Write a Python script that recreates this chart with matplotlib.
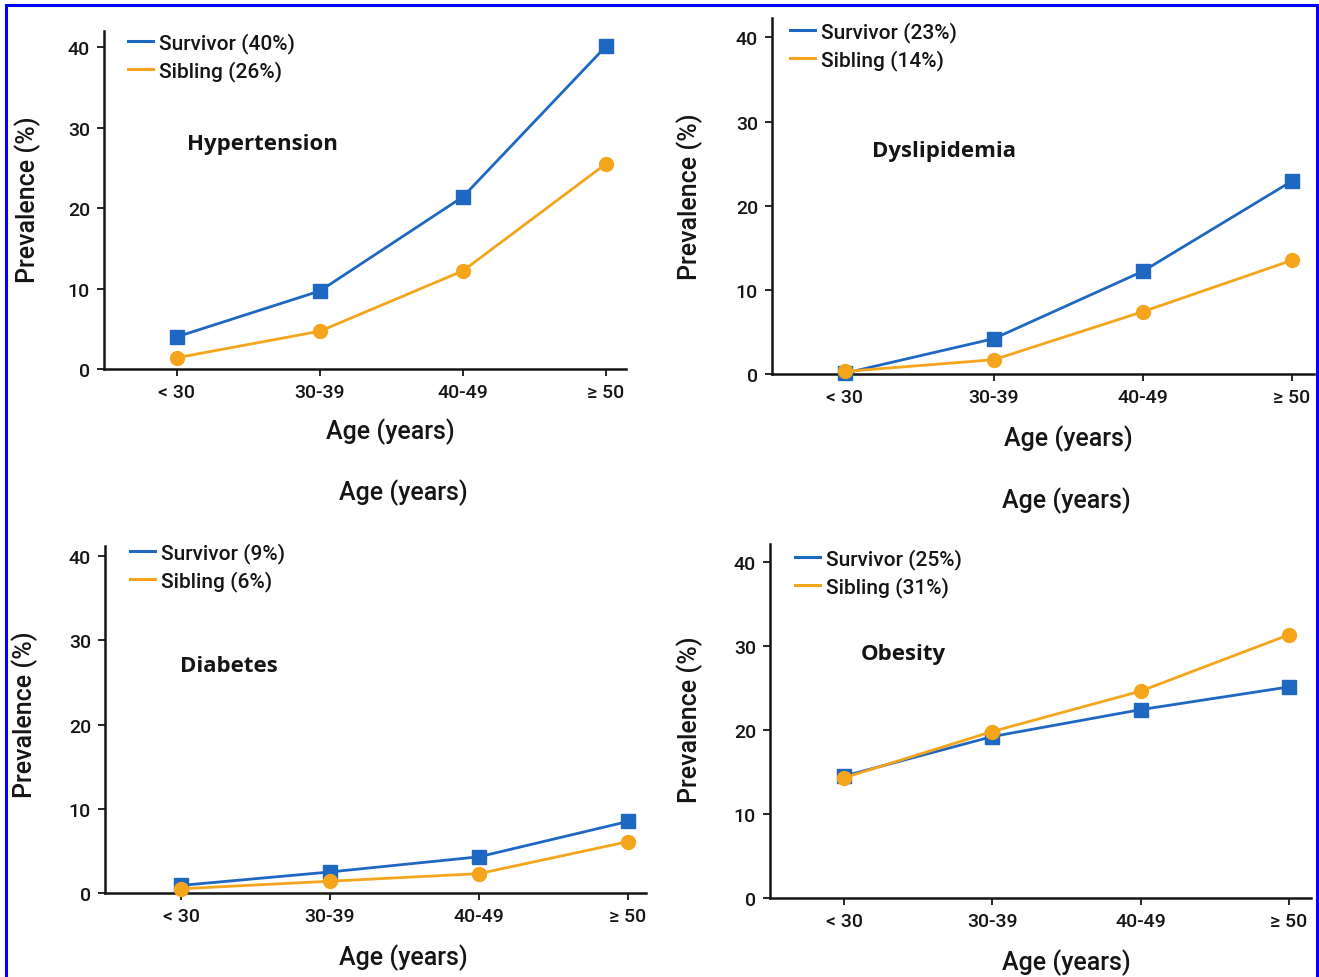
import matplotlib
matplotlib.use("Agg")
import matplotlib.pyplot as plt
from matplotlib.lines import Line2D
from matplotlib.patches import Rectangle

W, H = 1319, 978

age_groups = ["< 30", "30-39", "40-49", "\u2265 50"]
yticks = [0, 10, 20, 30, 40]

conditions = ["Hypertension", "Dyslipidemia", "Diabetes", "Obesity"]
survivor_overall = [40, 23, 9, 25]
sibling_overall = [26, 14, 6, 31]

hypertension_survivor = [4.0, 9.7, 21.4, 40.1]
hypertension_sibling = [1.4, 4.7, 12.2, 25.5]
dyslipidemia_survivor = [0.1, 4.2, 12.2, 22.9]
dyslipidemia_sibling = [0.3, 1.7, 7.4, 13.5]
diabetes_survivor = [0.9, 2.5, 4.3, 8.5]
diabetes_sibling = [0.5, 1.4, 2.3, 6.1]
obesity_survivor = [14.5, 19.2, 22.4, 25.1]
obesity_sibling = [14.3, 19.8, 24.6, 31.3]

survivor = [hypertension_survivor, dyslipidemia_survivor, diabetes_survivor, obesity_survivor]
sibling = [hypertension_sibling, dyslipidemia_sibling, diabetes_sibling, obesity_sibling]

BLUE = "#1f68c1"
ORANGE = "#f5a51c"
FONT = ["Roboto", "Liberation Sans", "DejaVu Sans"]
INK = "#151515"

# panel boxes in pixels: left, right, top, bottom ; xlim ; ymax
boxes = [
    (104, 626, 32, 370, (-0.51, 3.14), 42.0),
    (772, 1314, 19, 375, (-0.49, 3.15), 42.3),
    (105, 646, 547, 894, (-0.51, 3.12), 41.2),
    (770, 1311, 545, 899, (-0.50, 3.15), 42.1),
]
ylabel_pos = [(28, 200), (690, 197), (25, 715), (690, 720)]
xlabel_pos = [(390, 432), (1068, 439), (403, 958), (1066, 963)]
title_pos = [(187, 145), (872, 152), (180, 667), (861, 655)]
legend_pos = [(128, 33), (790, 22), (130, 543), (795, 549)]


def fx(x):
    return x / W


def fy(y):
    return 1 - y / H


fig = plt.figure(figsize=(W / 100, H / 100), dpi=100)

for i in range(4):
    l, r, t, b, xl, ymax = boxes[i]
    ax = fig.add_axes([fx(l), fy(b), (r - l) / W, (b - t) / H])
    x = list(range(len(age_groups)))
    ax.plot(x, survivor[i], color=BLUE, lw=2.0, marker="s", ms=10, zorder=3, clip_on=False)
    ax.plot(x, sibling[i], color=ORANGE, lw=2.0, marker="o", ms=10, zorder=3, clip_on=False)
    ax.set_xlim(*xl)
    ax.set_ylim(0, ymax)
    ax.set_xticks(x)
    ax.set_xticklabels(age_groups, fontsize=14, family=FONT, fontweight="medium")
    ax.set_yticks(yticks)
    ax.set_yticklabels([str(v) for v in yticks], fontsize=14, family=FONT, fontweight="medium")
    for s in ["top", "right"]:
        ax.spines[s].set_visible(False)
    for s in ["left", "bottom"]:
        ax.spines[s].set_linewidth(1.8)
        ax.spines[s].set_color(INK)
    ax.tick_params(direction="out", length=5, width=1.3, pad=5, colors=INK)

    ax.set_ylabel("Prevalence (%)", fontsize=18, family=FONT, fontweight="medium", color=INK)
    ax.yaxis.set_label_coords(fx(ylabel_pos[i][0]), fy(ylabel_pos[i][1]), transform=fig.transFigure)
    ax.set_xlabel("Age (years)", fontsize=18, family=FONT, fontweight="medium", color=INK)
    ax.xaxis.set_label_coords(fx(xlabel_pos[i][0]), fy(xlabel_pos[i][1]), transform=fig.transFigure)
    ax.xaxis.label.set_va("center")
    ax.yaxis.label.set_va("center")

    fig.text(fx(title_pos[i][0]), fy(title_pos[i][1]), conditions[i], fontsize=16,
             fontweight="bold", family=["Open Sans", "DejaVu Sans"], va="center", ha="left", color=INK)

    handles = [Line2D([], [], color=BLUE, lw=2.2), Line2D([], [], color=ORANGE, lw=2.2)]
    labels = ["Survivor (%d%%)" % survivor_overall[i], "Sibling (%d%%)" % sibling_overall[i]]
    ax.legend(handles, labels, loc="upper left",
              bbox_to_anchor=(fx(legend_pos[i][0]), fy(legend_pos[i][1])),
              bbox_transform=fig.transFigure, frameon=False, borderpad=0, borderaxespad=0,
              handlelength=1.2, handletextpad=0.3, labelspacing=0.33,
              prop={"family": FONT, "size": 15, "weight": "medium"}, labelcolor=INK)

# repeated axis captions between the rows
fig.text(fx(403), fy(493), "Age (years)", fontsize=18, family=FONT, fontweight="medium",
         ha="center", va="center", color=INK)
fig.text(fx(1066), fy(501), "Age (years)", fontsize=18, family=FONT, fontweight="medium",
         ha="center", va="center", color=INK)

# blue frame around the figure (open at the bottom edge)
fig.patches.append(Rectangle((fx(6), -0.05), fx(1311), fy(6) + 0.05, transform=fig.transFigure,
                             fill=False, edgecolor="#0000ff", lw=2.2))

fig.savefig("out.png", dpi=100)
